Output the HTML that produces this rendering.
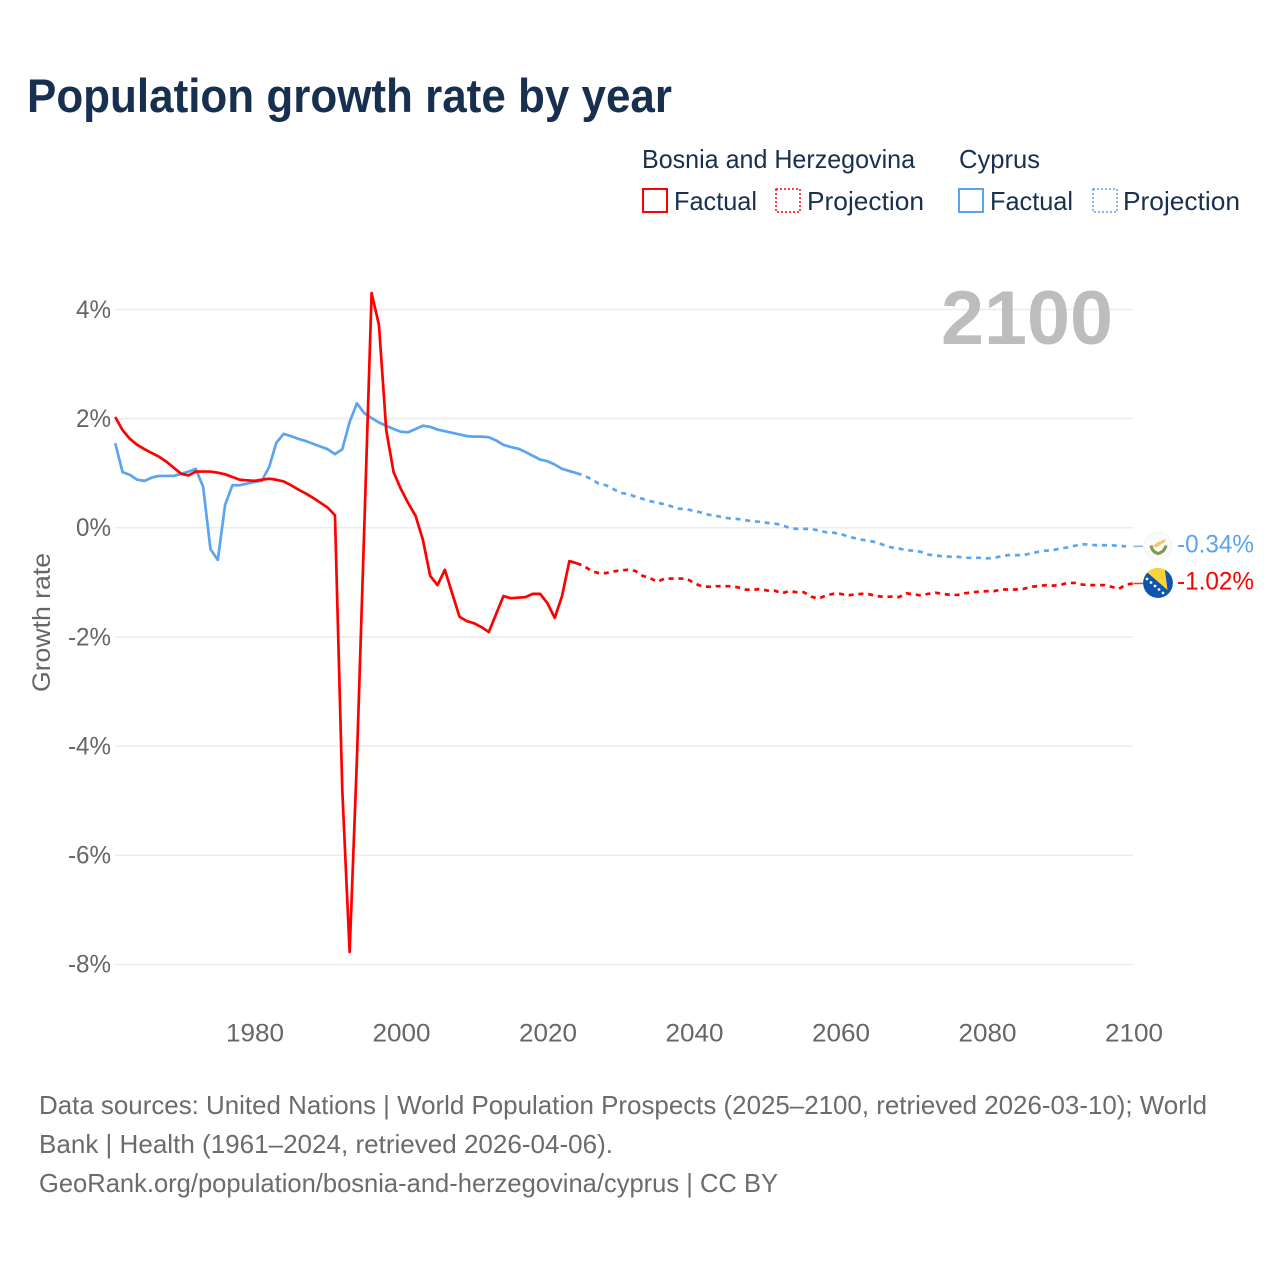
<!DOCTYPE html>
<html lang="en">
<head>
<meta charset="utf-8">
<title>Population growth rate by year</title>
<style>
html,body{margin:0;padding:0;background:#fff;width:1280px;height:1280px;overflow:hidden}
svg{display:block}
text{font-family:"Liberation Sans",sans-serif}
</style>
</head>
<body>
<svg id="chart" xmlns="http://www.w3.org/2000/svg" width="1280" height="1280" viewBox="0 0 1280 1280">
  <text x="27" y="112" font-size="47" font-weight="700" fill="#18304f" textLength="645" lengthAdjust="spacingAndGlyphs">Population growth rate by year</text>

  <g font-size="26" fill="#18304f">
    <text x="642" y="168" textLength="273" lengthAdjust="spacingAndGlyphs">Bosnia and Herzegovina</text>
    <text x="959" y="168" textLength="81" lengthAdjust="spacingAndGlyphs">Cyprus</text>
    <rect x="643" y="189" width="24" height="23" fill="none" stroke="#ff0000" stroke-width="2"/>
    <text x="674" y="210" textLength="83" lengthAdjust="spacingAndGlyphs">Factual</text>
    <rect x="776" y="189" width="24" height="23" fill="none" stroke="#ff0000" stroke-width="1.5" stroke-dasharray="2 2"/>
    <text x="807" y="210" textLength="117" lengthAdjust="spacingAndGlyphs">Projection</text>
    <rect x="959" y="189" width="24" height="23" fill="none" stroke="#5ba4ee" stroke-width="2"/>
    <text x="990" y="210" textLength="83" lengthAdjust="spacingAndGlyphs">Factual</text>
    <rect x="1093" y="189" width="24" height="23" fill="none" stroke="#5ba4ee" stroke-width="1.5" stroke-dasharray="2 2"/>
    <text x="1123" y="210" textLength="117" lengthAdjust="spacingAndGlyphs">Projection</text>
  </g>

  <g id="grid"></g>

  <text x="941" y="344" font-size="76" font-weight="700" fill="#bdbdbd" textLength="172" lengthAdjust="spacingAndGlyphs">2100</text>

  <text transform="translate(50 692) rotate(-90)" font-size="25" fill="#666666" textLength="139" lengthAdjust="spacingAndGlyphs">Growth rate</text>

  <g id="yticks"></g>
  <g id="xticks"></g>
  <g id="series"></g>

  <defs>
    <clipPath id="clip-bih"><circle cx="1158" cy="583" r="15"/></clipPath>
    <clipPath id="clip-cy"><circle cx="1158" cy="546" r="15"/></clipPath>
  </defs>

  <g clip-path="url(#clip-cy)">
    <circle cx="1158" cy="546" r="15" fill="#fbfbfb"/>
    <circle cx="1158" cy="546" r="13.5" fill="none" stroke="#f1f1f1" stroke-width="1.5" stroke-dasharray="1.5 1.5"/>
    <path d="M1152.7 546.5 L1157 542.5 L1161 541 L1166 538.5 L1164.5 542.5 L1160 545 L1156.5 547.5 Z" fill="#f5c76a"/>
    <path d="M1151 545.5 Q1152 552 1158 553.5 Q1164.5 552 1166 545.5" fill="none" stroke="#7f9a52" stroke-width="3"/>
  </g>
  <g clip-path="url(#clip-bih)">
    <circle cx="1158" cy="583" r="15" fill="#0f55b0"/>
    <path d="M1141 567 L1164.5 567 L1167.5 590 Z" fill="#fdd236"/>
    <g fill="#ffffff">
      <circle cx="1147" cy="579" r="1.4"/>
      <circle cx="1151" cy="582.5" r="1.4"/>
      <circle cx="1155" cy="586" r="1.4"/>
      <circle cx="1159" cy="589.5" r="1.4"/>
      <circle cx="1163" cy="593" r="1.4"/>
    </g>
  </g>

  <g id="endlabels"></g>

  <g font-size="26" fill="#6b6b6b">
    <text x="39" y="1114" textLength="1168" lengthAdjust="spacingAndGlyphs">Data sources: United Nations | World Population Prospects (2025–2100, retrieved 2026-03-10); World</text>
    <text x="39" y="1153" textLength="574" lengthAdjust="spacingAndGlyphs">Bank | Health (1961–2024, retrieved 2026-04-06).</text>
    <text x="39" y="1192" textLength="739" lengthAdjust="spacingAndGlyphs">GeoRank.org/population/bosnia-and-herzegovina/cyprus | CC BY</text>
  </g>
</svg>

<script>
var firstYear = 1961;
var lastFactualYear = 2024;
var xTicks = [1980, 2000, 2020, 2040, 2060, 2080, 2100];
var yTicks = [4, 2, 0, -2, -4, -6, -8];

var bosniaFactual = [2.03,1.79,1.63,1.52,1.44,1.37,1.30,1.21,1.10,0.99,0.96,1.03,1.03,1.03,1.01,0.98,0.93,0.88,0.87,0.86,0.88,0.90,0.88,0.85,0.78,0.70,0.63,0.55,0.46,0.37,0.23,-4.81,-7.77,-4.22,0.00,4.30,3.72,1.79,1.02,0.71,0.45,0.22,-0.22,-0.88,-1.05,-0.77,-1.20,-1.63,-1.71,-1.75,-1.82,-1.91,-1.58,-1.25,-1.29,-1.28,-1.27,-1.21,-1.21,-1.38,-1.65,-1.25,-0.61,-0.65];
var bosniaProjection = [-0.70,-0.79,-0.83,-0.83,-0.80,-0.78,-0.77,-0.79,-0.88,-0.92,-0.99,-0.93,-0.93,-0.93,-0.93,-1.01,-1.07,-1.08,-1.07,-1.07,-1.07,-1.09,-1.13,-1.14,-1.12,-1.15,-1.15,-1.20,-1.16,-1.18,-1.18,-1.26,-1.30,-1.24,-1.21,-1.21,-1.24,-1.22,-1.21,-1.22,-1.25,-1.27,-1.26,-1.27,-1.20,-1.22,-1.24,-1.21,-1.19,-1.21,-1.23,-1.23,-1.20,-1.18,-1.17,-1.16,-1.16,-1.13,-1.13,-1.13,-1.12,-1.08,-1.07,-1.05,-1.06,-1.05,-1.01,-1.01,-1.04,-1.05,-1.05,-1.05,-1.08,-1.12,-1.04,-1.02];
var cyprusFactual = [1.55,1.02,0.97,0.88,0.86,0.92,0.95,0.95,0.95,0.99,1.03,1.08,0.75,-0.39,-0.59,0.42,0.78,0.78,0.81,0.84,0.86,1.11,1.56,1.72,1.68,1.63,1.59,1.54,1.49,1.44,1.35,1.44,1.94,2.28,2.10,2.01,1.93,1.87,1.81,1.76,1.75,1.81,1.87,1.85,1.80,1.77,1.74,1.71,1.68,1.67,1.67,1.66,1.60,1.52,1.48,1.45,1.39,1.32,1.25,1.22,1.16,1.08,1.04,1.00];
var cyprusProjection = [0.96,0.89,0.81,0.78,0.71,0.64,0.62,0.57,0.53,0.49,0.46,0.43,0.39,0.35,0.34,0.31,0.28,0.24,0.22,0.19,0.17,0.16,0.14,0.12,0.11,0.09,0.08,0.05,0.00,-0.02,-0.02,-0.02,-0.05,-0.08,-0.09,-0.11,-0.16,-0.19,-0.22,-0.24,-0.27,-0.32,-0.36,-0.38,-0.41,-0.42,-0.44,-0.49,-0.51,-0.52,-0.53,-0.53,-0.55,-0.55,-0.55,-0.56,-0.55,-0.52,-0.50,-0.50,-0.50,-0.47,-0.44,-0.42,-0.41,-0.38,-0.36,-0.33,-0.30,-0.31,-0.32,-0.32,-0.32,-0.33,-0.34];
var cyprusEndLabel = "-0.34%";
var bosniaEndLabel = "-1.02%";

var NS = "http://www.w3.org/2000/svg";
var RED = "#ff0000";
var BLUE = "#5ba4ee";

function xScale(year) { return 254.4 + (year - 1980) * 7.325; }
function yScale(value) { return 527.8 - value * 54.58; }

function make(tag, parentId) {
  var el = document.createElementNS(NS, tag);
  document.getElementById(parentId).appendChild(el);
  return el;
}

function linePath(values, startYear, prefix) {
  var parts = prefix ? [prefix] : [];
  for (var i = 0; i < values.length; i++) {
    parts.push(xScale(startYear + i).toFixed(2) + " " + yScale(values[i]).toFixed(2));
  }
  return "M" + parts.join(" L");
}

yTicks.forEach(function (t) {
  var line = make("line", "grid");
  
  
  line.setAttribute("x1", 115);
  line.setAttribute("x2", 1133);
  line.setAttribute("y1", yScale(t));
  line.setAttribute("y2", yScale(t));
  line.setAttribute("stroke", "#ececec");
  line.setAttribute("stroke-width", 1.5);

  var label = make("text", "yticks");
  
  
  label.setAttribute("x", 111);
  label.setAttribute("y", yScale(t) + 8.3);
  label.setAttribute("text-anchor", "end");
  label.setAttribute("font-size", 25);
  label.setAttribute("fill", "#666666");
  label.setAttribute("textLength", t < 0 ? 43 : 35);
  label.setAttribute("lengthAdjust", "spacingAndGlyphs");
  label.textContent = t + "%";
});

xTicks.forEach(function (t) {
  var label = make("text", "xticks");
  
  
  label.setAttribute("x", xScale(t) + 0.6);
  label.setAttribute("y", 1041.5);
  label.setAttribute("text-anchor", "middle");
  label.setAttribute("font-size", 25);
  label.setAttribute("fill", "#666666");
  label.setAttribute("textLength", 58);
  label.setAttribute("lengthAdjust", "spacingAndGlyphs");
  label.textContent = t;
});

function lastOf(a) { return a[a.length - 1]; }

function drawSeries(name, color, factual, projection) {
  var start = xScale(lastFactualYear).toFixed(2) + " " + yScale(lastOf(factual)).toFixed(2);

  var dashed = make("path", "series");
  
  
  dashed.setAttribute("data-series", name);
  dashed.setAttribute("d", linePath(projection, lastFactualYear + 1, start));
  dashed.setAttribute("fill", "none");
  dashed.setAttribute("stroke", color);
  dashed.setAttribute("stroke-width", 2.7);
  dashed.setAttribute("stroke-dasharray", "5 4.8");

  var solid = make("path", "series");
  
  
  solid.setAttribute("data-series", name);
  solid.setAttribute("d", linePath(factual, firstYear));
  solid.setAttribute("fill", "none");
  solid.setAttribute("stroke", color);
  solid.setAttribute("stroke-width", 2.7);
  solid.setAttribute("stroke-linejoin", "round");

  var link = make("line", "series");
  
  
  link.setAttribute("x1", xScale(2100));
  link.setAttribute("x2", 1143);
  link.setAttribute("y1", yScale(lastOf(projection)));
  link.setAttribute("y2", yScale(lastOf(projection)));
  link.setAttribute("stroke", color);
  link.setAttribute("stroke-width", 1.5);
  link.setAttribute("opacity", 0.8);
}

drawSeries("cyprus", BLUE, cyprusFactual, cyprusProjection);
drawSeries("bosnia", RED, bosniaFactual, bosniaProjection);

function drawEndLabel(text, color, value) {
  var label = make("text", "endlabels");
  
  
  label.setAttribute("x", 1177);
  label.setAttribute("y", yScale(value) + 6);
  label.setAttribute("font-size", 25);
  label.setAttribute("fill", color);
  label.setAttribute("textLength", 77);
  label.setAttribute("lengthAdjust", "spacingAndGlyphs");
  label.textContent = text;
}
drawEndLabel(cyprusEndLabel, BLUE, lastOf(cyprusProjection));
drawEndLabel(bosniaEndLabel, RED, lastOf(bosniaProjection));
</script>
</body>
</html>
